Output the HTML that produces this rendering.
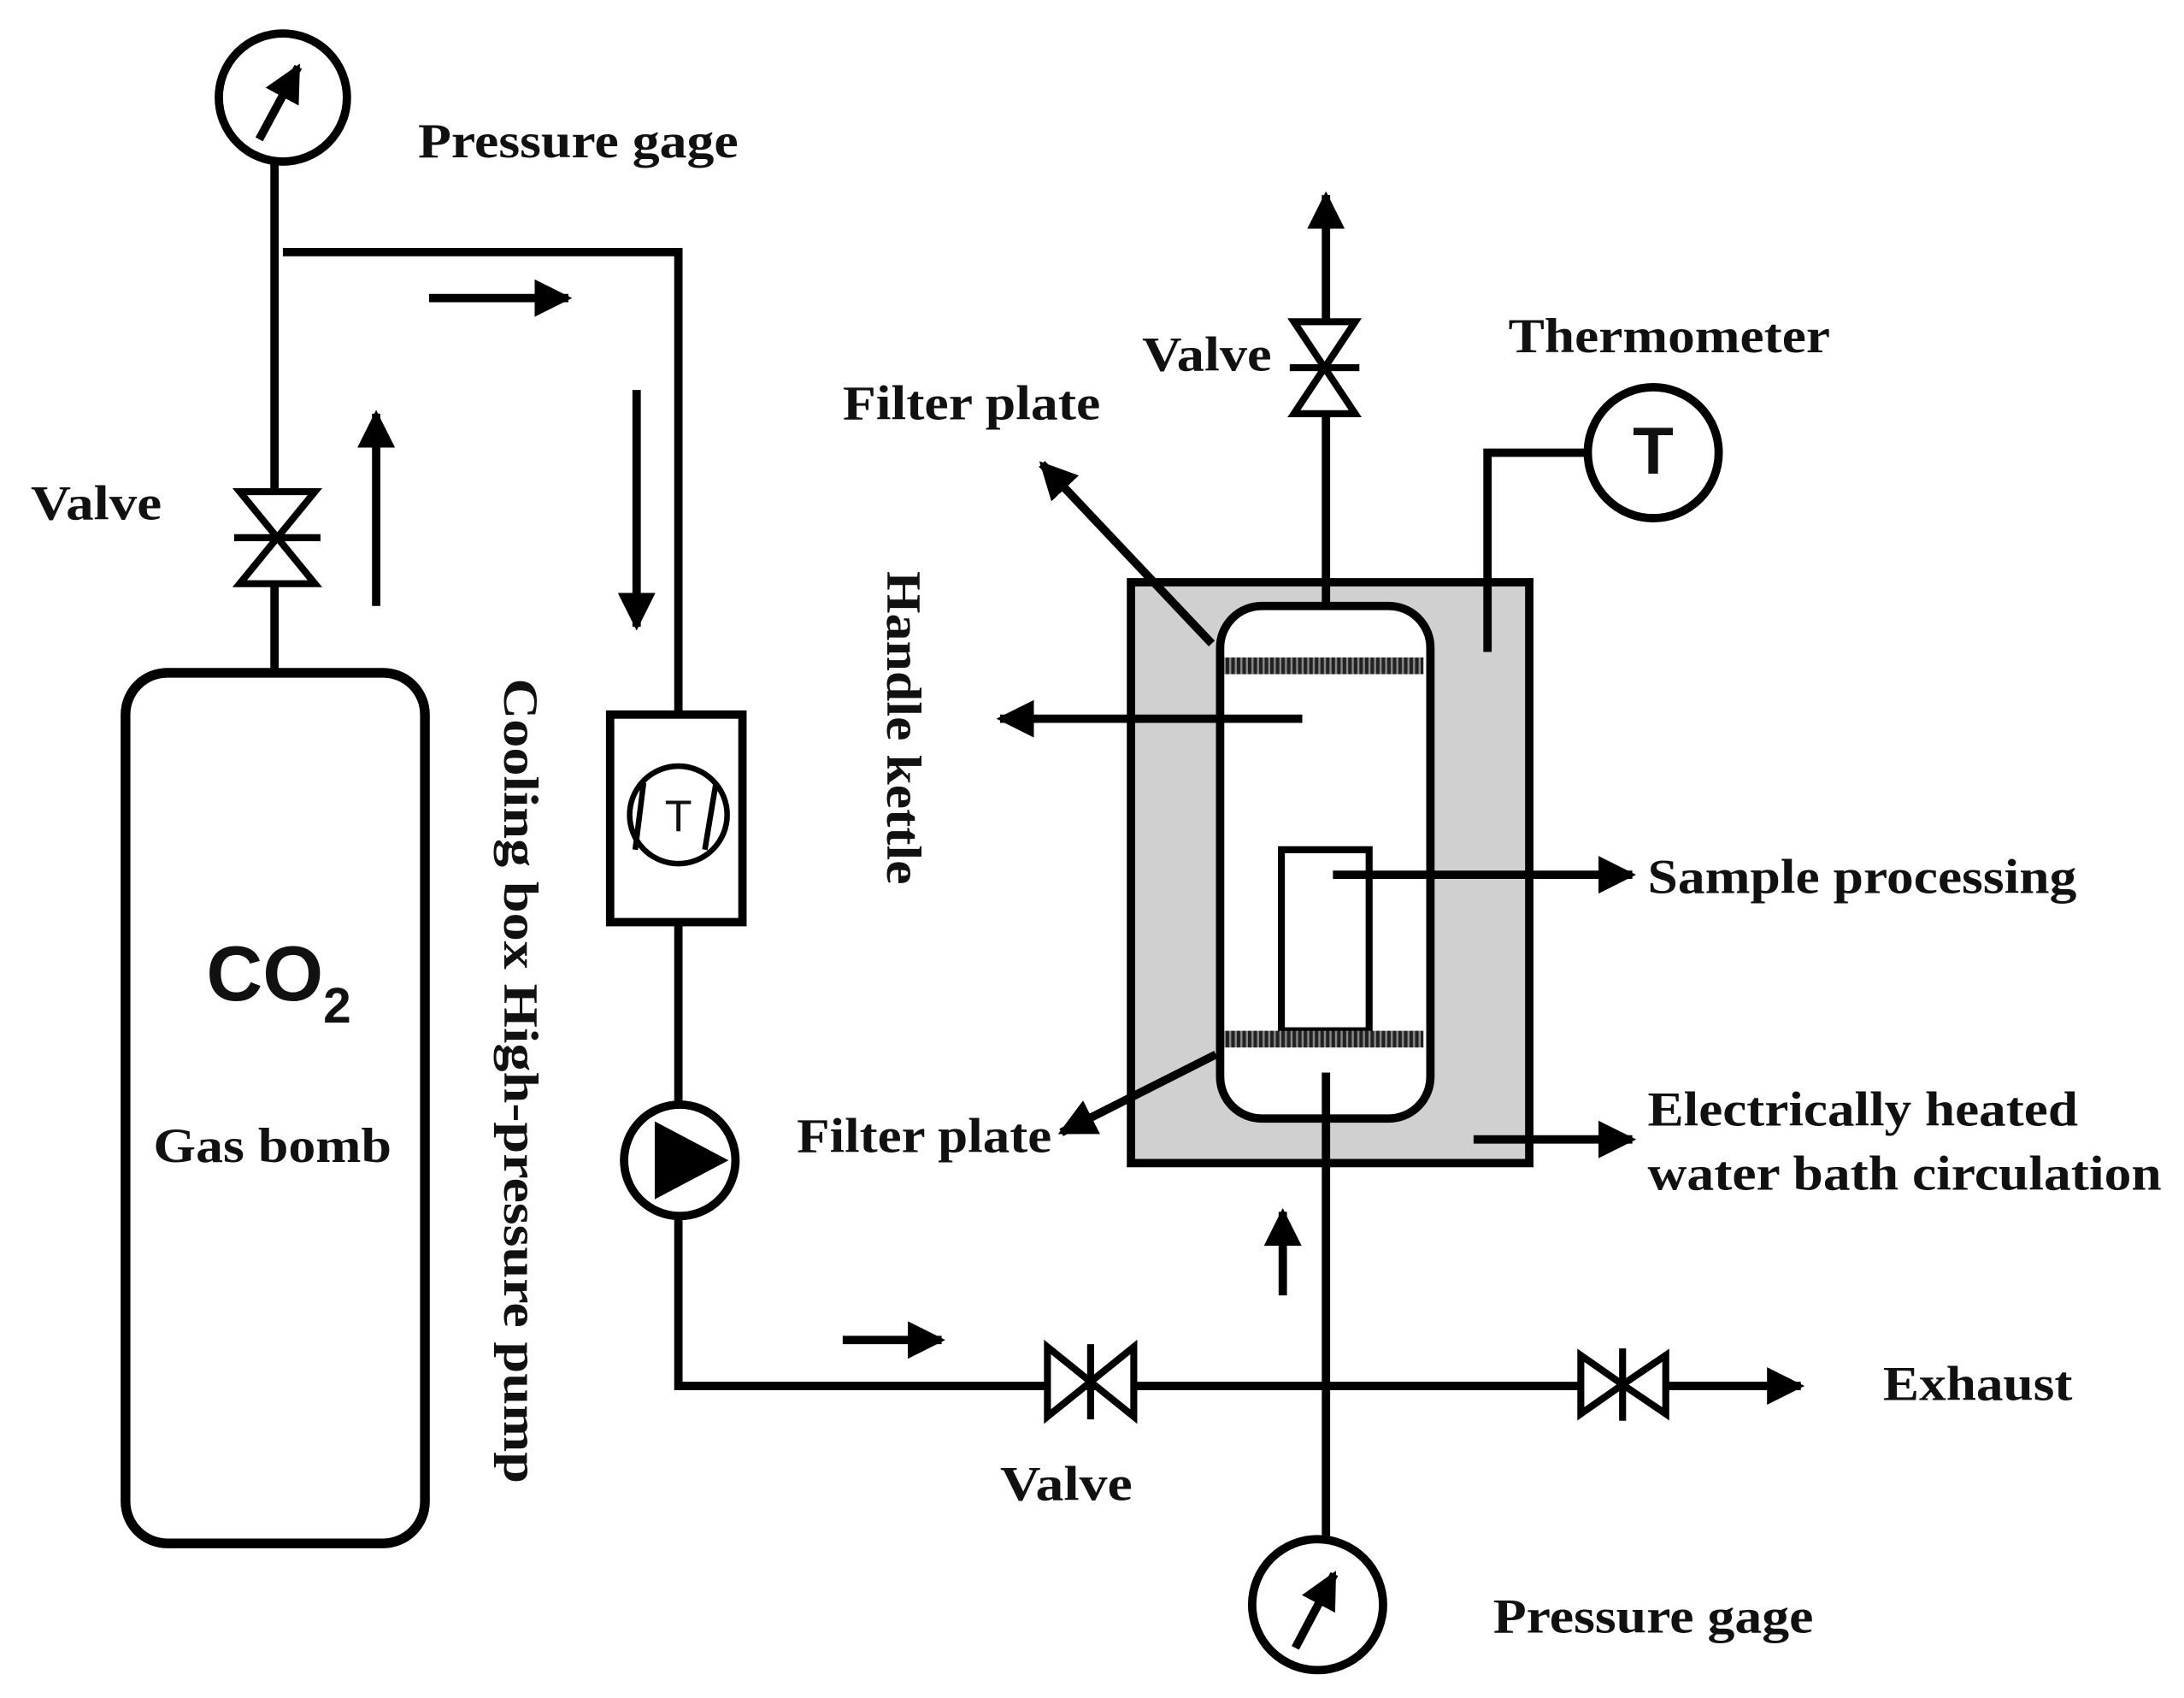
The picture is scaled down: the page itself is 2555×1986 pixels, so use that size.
<!DOCTYPE html>
<html><head><meta charset="utf-8"><style>
html,body{margin:0;padding:0;background:#fff;}
svg{display:block;}
text{font-family:"Liberation Serif",serif;font-weight:bold;font-size:35px;fill:#111;}
</style></head><body>
<svg width="2555" height="1986" viewBox="0 0 1568 1219" xmlns="http://www.w3.org/2000/svg">
<defs>
<marker id="ah" viewBox="0 0 10 10" refX="9" refY="5" markerWidth="4.5" markerHeight="4.5" orient="auto" markerUnits="strokeWidth">
<path d="M0,0 L10,5 L0,10 z" fill="#000"/></marker>
<pattern id="hatch" width="4" height="4" patternUnits="userSpaceOnUse">
<rect width="4" height="4" fill="#888"/><rect width="2.5" height="4" fill="#222"/></pattern>
</defs>
<g stroke="#000" stroke-width="6" fill="none">
<circle cx="203" cy="70" r="46"/>
<line x1="186" y1="100" x2="214" y2="48" marker-end="url(#ah)"/>
<line x1="197" y1="116" x2="197" y2="485"/>
<polyline points="203,181 487,181 487,515"/>
<rect x="90" y="483" width="215" height="625" rx="30" stroke-width="7"/>
<line x1="308" y1="214" x2="408" y2="214" marker-end="url(#ah)"/>
<line x1="270" y1="435" x2="270" y2="297" marker-end="url(#ah)"/>
<line x1="457" y1="280" x2="457" y2="450" marker-end="url(#ah)"/>
<rect x="438" y="513" width="95" height="149"/>
<circle cx="487" cy="585" r="35" stroke-width="4"/>
<line x1="462" y1="562" x2="456" y2="610" stroke-width="4"/>
<line x1="514" y1="562" x2="506" y2="610" stroke-width="4"/>
<line x1="487" y1="662" x2="487" y2="793"/>
<circle cx="488" cy="833" r="40"/>
<polyline points="487,873 487,995 1290,995" />
<line x1="1200" y1="995" x2="1293" y2="995" marker-end="url(#ah)"/>
<line x1="605" y1="962" x2="676" y2="962" marker-end="url(#ah)"/>
<rect x="812" y="418" width="286" height="417" fill="#d0d0d0"/>
<rect x="876" y="435" width="151" height="368" rx="30" fill="#fff"/>
<rect x="920" y="610" width="63" height="130" fill="#fff" stroke-width="5"/>
<line x1="952" y1="435" x2="952" y2="140" marker-end="url(#ah)"/>
<polyline points="1140,325 1068,325 1068,468"/>
<circle cx="1187" cy="325" r="47"/>
<line x1="870" y1="462" x2="748" y2="333" marker-end="url(#ah)"/>
<line x1="873" y1="757" x2="762" y2="813" marker-end="url(#ah)"/>
<line x1="935" y1="516" x2="718" y2="516" marker-end="url(#ah)"/>
<line x1="957" y1="628" x2="1172" y2="628" marker-end="url(#ah)"/>
<line x1="1058" y1="818" x2="1172" y2="818" marker-end="url(#ah)"/>
<line x1="952" y1="770" x2="952" y2="1105"/>
<line x1="921" y1="930" x2="921" y2="870" marker-end="url(#ah)"/>
<circle cx="946" cy="1152" r="47"/>
<line x1="930" y1="1183" x2="958" y2="1130" marker-end="url(#ah)"/>
</g>
<rect x="879" y="472" width="143" height="12" fill="url(#hatch)"/>
<rect x="879" y="740" width="143" height="12" fill="url(#hatch)"/>
<polygon points="470,805 470,861 523,833" fill="#000"/>
<g fill="#fff" stroke="#000" stroke-width="5">
<polygon points="172,353 226,353 199,386"/><polygon points="172,419 226,419 199,386"/>
<line x1="168" y1="386" x2="230" y2="386"/>
<polygon points="929,231 973,231 951,264"/><polygon points="929,297 973,297 951,264"/>
<line x1="926" y1="264" x2="976" y2="264"/>
<polygon points="752,967 752,1017 783,992"/><polygon points="814,967 814,1017 783,992"/>
<line x1="783" y1="965" x2="783" y2="1019"/>
<polygon points="1135,973 1135,1015 1165,994"/><polygon points="1196,973 1196,1015 1165,994"/>
<line x1="1165" y1="968" x2="1165" y2="1020"/>
</g>
<g lengthAdjust="spacingAndGlyphs">
<text x="300" y="113" textLength="230" lengthAdjust="spacingAndGlyphs">Pressure gage</text>
<text x="22" y="373" textLength="94" lengthAdjust="spacingAndGlyphs">Valve</text>
<text x="820" y="266" textLength="93" lengthAdjust="spacingAndGlyphs">Valve</text>
<text x="1083" y="253" textLength="231" lengthAdjust="spacingAndGlyphs">Thermometer</text>
<text x="605" y="301" textLength="185" lengthAdjust="spacingAndGlyphs">Filter plate</text>
<text x="572" y="827" textLength="183" lengthAdjust="spacingAndGlyphs">Filter plate</text>
<text x="1183" y="641" textLength="308" lengthAdjust="spacingAndGlyphs">Sample processing</text>
<text x="1183" y="808" textLength="309" lengthAdjust="spacingAndGlyphs">Electrically heated</text>
<text x="1183" y="854" textLength="369" lengthAdjust="spacingAndGlyphs">water bath circulation</text>
<text x="718" y="1077" textLength="95" lengthAdjust="spacingAndGlyphs">Valve</text>
<text x="1352" y="1005" textLength="136" lengthAdjust="spacingAndGlyphs">Exhaust</text>
<text x="1072" y="1172" textLength="230" lengthAdjust="spacingAndGlyphs">Pressure gage</text>
<text x="110" y="834" textLength="171" lengthAdjust="spacingAndGlyphs">Gas bomb</text>
</g>
<text x="148" y="718" style="font-family:'Liberation Sans',sans-serif;font-size:56px;">CO<tspan dy="16" style="font-size:36px">2</tspan></text>
<text x="1187" y="340" text-anchor="middle" style="font-family:'Liberation Sans',sans-serif;font-size:48px;">T</text>
<text x="487" y="597" text-anchor="middle" style="font-family:'Liberation Sans',sans-serif;font-size:32px;font-weight:normal">T</text>
<text transform="translate(362,487) rotate(90)" textLength="578" lengthAdjust="spacingAndGlyphs">Cooling box  High-pressure pump</text>
<text transform="translate(637,410) rotate(90)" textLength="225" lengthAdjust="spacingAndGlyphs">Handle kettle</text>
</svg>
</body></html>
